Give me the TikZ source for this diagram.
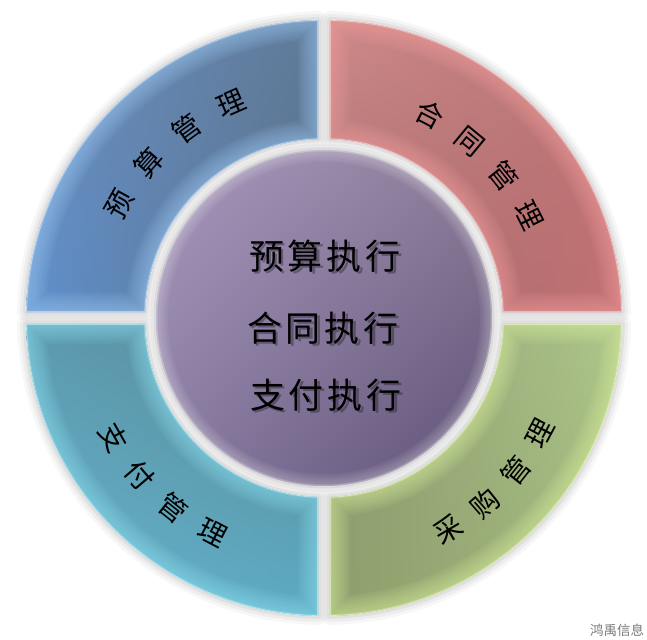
\documentclass[tikz,border=0pt]{standalone}
\usepackage{fontspec}
\newfontfamily\cjk{Noto Sans CJK SC}
\usetikzlibrary{shadings}
\definecolor{tlA}{HTML}{6C8EBC}\definecolor{tlB}{HTML}{5F7B99}\definecolor{tlC}{HTML}{5F90CC}\definecolor{tlD}{HTML}{5A6E88}\definecolor{tlG}{HTML}{A0CCF6}
\definecolor{trA}{HTML}{CF8A8A}\definecolor{trB}{HTML}{B87474}\definecolor{trC}{HTML}{A06A6C}\definecolor{trD}{HTML}{C27072}\definecolor{trG}{HTML}{F7A2A2}
\definecolor{brA}{HTML}{8C9A74}\definecolor{brB}{HTML}{AEC68A}\definecolor{brC}{HTML}{8E9E6C}\definecolor{brD}{HTML}{A2B87C}\definecolor{brG}{HTML}{DCF3A0}
\definecolor{blA}{HTML}{5C9AB0}\definecolor{blB}{HTML}{5A8894}\definecolor{blC}{HTML}{68B4CC}\definecolor{blD}{HTML}{5CAAC2}\definecolor{blG}{HTML}{92E4F4}
\definecolor{ceA}{HTML}{A898BE}\definecolor{ceB}{HTML}{8C7C98}\definecolor{ceC}{HTML}{887AA0}\definecolor{ceD}{HTML}{5E5176}
\definecolor{wmark}{HTML}{7A7A7A}
\newcommand\mkquad[6]{%
  \begin{scope}
    \clip[quad=#1];
    \shade[upper left=#2, upper right=#3, lower left=#4, lower right=#5, quad=#1];
    \foreach \w in {40,36,...,4}{\draw[#6, line width=\w, opacity=0.07, quad=#1];}
    \draw[#6, line width=3, opacity=.3, quad=#1];
    \draw[white, line width=1.2, opacity=.55, quad=#1];
  \end{scope}}
\begin{document}
\begin{tikzpicture}[x=1pt,y=1pt,
  ringtxt/.style={font=\cjk\fontsize{28}{28}\selectfont, inner sep=0pt},
  centxt/.style={font=\cjk\fontsize{35}{35}\selectfont, inner sep=0pt},
]
\useasboundingbox (-324,-321) rectangle (323,318);
\fill[white] (-324,-321) rectangle (323,318);
\def\Ro{298}\def\Ri{179}
\pgfmathsetmacro\ao{asin(6/298)}
\pgfmathsetmacro\ai{asin(6/179)}
\tikzset{quad/.style={insert path={(#1+\ao:\Ro) arc[start angle=#1+\ao, end angle=#1+90-\ao, radius=\Ro] -- (#1+90-\ai:\Ri) arc[start angle=#1+90-\ai, end angle=#1+\ai, radius=\Ri] -- cycle}}}
% soft shadows
\foreach \b in {0,90,180,270}{
  \foreach \w/\o in {18/0.03, 12/0.04, 6/0.05}{\draw[black, line width=\w, opacity=\o, line join=round, quad=\b];}
}
% quadrants
\mkquad{90}{tlA}{tlB}{tlC}{tlD}{tlG}
\mkquad{0}{trA}{trB}{trC}{trD}{trG}
\mkquad{270}{brA}{brB}{brC}{brD}{brG}
\mkquad{180}{blA}{blB}{blC}{blD}{blG}
% gap ring around centre
\fill[white!91!black] (0,0) circle (174);
\fill[white!86!black] (0,0) circle (170.5);
% centre circle
\begin{scope}
  \clip (0,0) circle (168);
  \shade[upper left=ceA, upper right=ceB, lower left=ceC, lower right=ceD] (-168,-168) rectangle (168,168);
  \foreach \w in {24,20,...,4}{\draw[white, line width=\w, opacity=0.05] (0,0) circle (168);}
  \draw[white, line width=2.5, opacity=.25] (0,0) circle (168);
\end{scope}
\node[circle, minimum size=336pt, inner sep=0pt] (core) at (0,0) {};
% ring texts
\foreach \c [count=\i] in {预,算,管,理}{
  \pgfmathsetmacro\ang{151-12.5*(\i-1)}
  \node[ringtxt, rotate=\ang-90] (tl\i) at (\ang:234) {\c};}
\foreach \c [count=\i] in {合,同,管,理}{
  \pgfmathsetmacro\ang{62.5-12*(\i-1)}
  \node[ringtxt, rotate=\ang-90] (tr\i) at (\ang:229) {\c};}
\foreach \c [count=\i] in {采,购,管,理}{
  \pgfmathsetmacro\ang{-59.5+10.5*(\i-1)}
  \node[ringtxt, rotate=\ang+90] (br\i) at (\ang:245) {\c};}
\foreach \c [count=\i] in {支,付,管,理}{
  \pgfmathsetmacro\ang{-150.5+11*(\i-1)}
  \node[ringtxt, rotate=\ang+90] (bl\i) at (\ang:242) {\c};}
% centre texts with shadow
\foreach \t/\x/\y/\n in {预\hspace{4pt}算\hspace{4pt}执\hspace{4pt}行/1/62/a, 合\hspace{4pt}同\hspace{4pt}执\hspace{4pt}行/-1/-10/b, 支\hspace{4pt}付\hspace{4pt}执\hspace{4pt}行/2/-77/c}{
  \node[centxt, black, opacity=.3] (sh\n) at (\x+2.5,\y-2.5) {\t};
  \node[centxt, black] (c\n) at (\x,\y) {\t};}
% watermark
\node[font=\cjk\fontsize{13.5}{13.5}\selectfont, text=wmark, inner sep=0pt] (wm) at (293,-312) {鸿禹信息};
\end{tikzpicture}
\end{document}
